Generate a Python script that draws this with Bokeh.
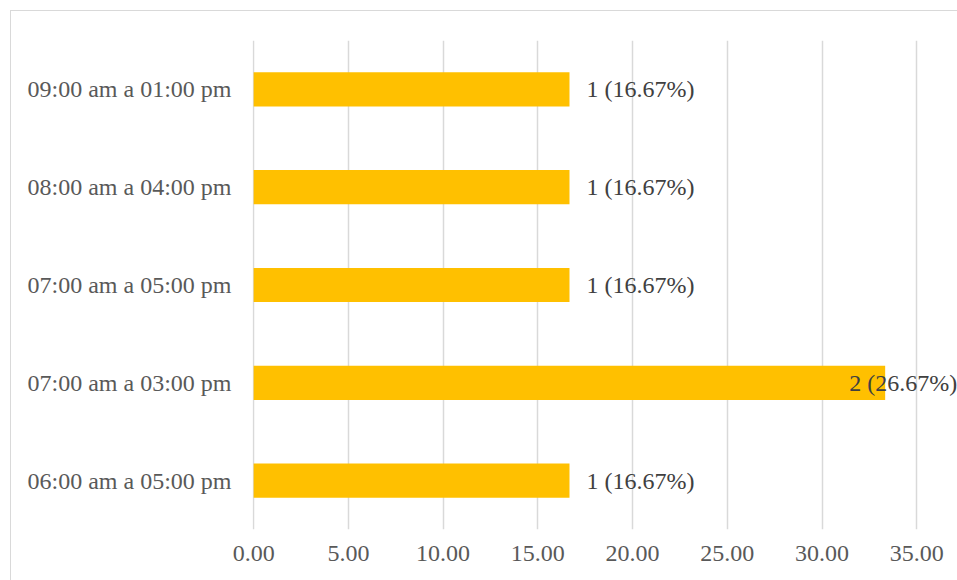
from bokeh.plotting import figure
from bokeh.models import ColumnDataSource, Range1d, SingleIntervalTicker, NumeralTickFormatter, LabelSet
from bokeh.embed import file_html
from bokeh.resources import INLINE

categories = ["06:00 am a 05:00 pm", "07:00 am a 03:00 pm", "07:00 am a 05:00 pm",
              "08:00 am a 04:00 pm", "09:00 am a 01:00 pm"]
values = [16.67, 33.33, 16.67, 16.67, 16.67]
counts = [1, 2, 1, 1, 1]
pct_labels = ["16.67%", "26.67%", "16.67%", "16.67%", "16.67%"]

labels = [f"{c} ({p})" for c, p in zip(counts, pct_labels)]
offsets = [17 if v < 30 else -36 for v in values]

src = ColumnDataSource(dict(cat=categories, val=values, lab=labels, off=offsets))

FONT = "'Liberation Serif', 'Times New Roman', serif"
p = figure(width=947, height=570, y_range=categories, x_range=Range1d(-0.06, 37.2),
           output_backend="svg", toolbar_location=None, margin=(10, 0, 0, 10),
           min_border_left=241, min_border_right=0, min_border_top=29, min_border_bottom=52,
           styles={"border-left": "1px solid #d9d9d9", "border-top": "1px solid #d9d9d9",
                   "box-sizing": "border-box"})
p.outline_line_color = None
p.background_fill_color = "white"
p.border_fill_color = "white"

p.hbar(y="cat", right="val", left=0, height=0.35, source=src, color="#FFC000", line_color=None)

p.add_layout(LabelSet(x="val", y="cat", text="lab", source=src, x_offset="off",
                      text_font=FONT, text_font_size="24px", text_color="#404040",
                      text_align="left", text_baseline="middle"))

p.xaxis.ticker = SingleIntervalTicker(interval=5)
p.xaxis.formatter = NumeralTickFormatter(format="0.00")
p.xaxis.axis_line_color = None
p.xaxis.major_tick_line_color = None
p.xaxis.minor_tick_line_color = None
p.xaxis.major_label_text_font = FONT
p.xaxis.major_label_text_font_size = "24px"
p.xaxis.major_label_text_color = "#595959"
p.xaxis.major_label_standoff = 10

p.yaxis.axis_line_color = None
p.yaxis.major_tick_line_color = None
p.yaxis.minor_tick_line_color = None
p.yaxis.major_label_text_font = FONT
p.yaxis.major_label_text_font_size = "24px"
p.yaxis.major_label_text_color = "#595959"
p.yaxis.major_label_standoff = 15

p.xgrid.grid_line_color = "#d9d9d9"
p.xgrid.grid_line_width = 1.5
p.ygrid.grid_line_color = None

open("out.html", "w").write(file_html(p, INLINE))
